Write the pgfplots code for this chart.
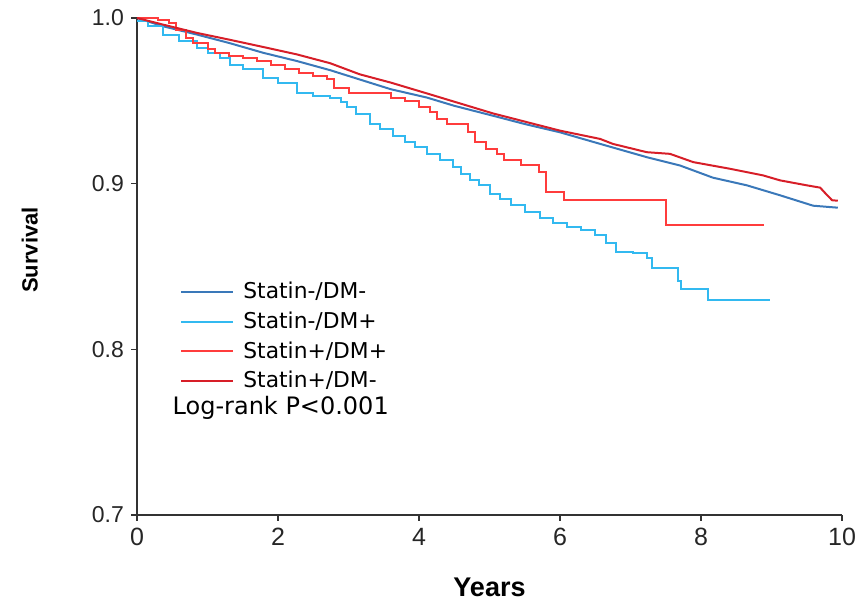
\documentclass[border=0pt]{standalone}
\usepackage{fontspec}
\setmainfont{DejaVu Sans}
\newfontfamily\arialf{Liberation Sans}
\usepackage{pgfplots}
\pgfplotsset{compat=1.18}
\definecolor{sdmm}{RGB}{58,120,185}
\definecolor{sdmp}{RGB}{50,185,240}
\definecolor{spdp}{RGB}{255,60,60}
\definecolor{spdm}{RGB}{215,30,40}

\begin{document}
\begin{tikzpicture}
\begin{axis}[
  width=352.5pt, height=248.5pt, scale only axis,
  xmin=0, xmax=10, ymin=0.7, ymax=1.0,
  axis x line*=bottom, axis y line*=left,
  axis line style={black!80, line width=0.8pt},
  xtick={0,2,4,6,8,10}, ytick={0.7,0.8,0.9,1.0},
  tick align=outside, major tick length=3pt,
  tick style={black!80, line width=0.8pt},
  yticklabel style={/pgf/number format/.cd, fixed, fixed zerofill, precision=1},
  /pgf/number format/assume math mode=true,
  ticklabel style={font=\arialf\fontsize{11.5}{13}\selectfont, text=black!85},
  xticklabel style={font=\arialf\fontsize{12.5}{14}\selectfont},
  xlabel={Years}, ylabel={Survival},
  xlabel style={at={(rel axis cs:0.5,0)}, anchor=center, yshift=-36pt,
    font=\arialf\bfseries\fontsize{13.5}{15}\selectfont},
  ylabel style={at={(rel axis cs:-0.152,0.533)}, anchor=center,
    font=\arialf\bfseries\fontsize{11}{13}\selectfont},
  legend style={draw=none, fill=none, at={(rel axis cs:0.061,0.475)},
    anchor=north west, font=\fontsize{10.9}{12}\selectfont,
    row sep=2pt, column sep=3pt, inner sep=0pt, nodes={inner sep=1.5pt}},
  legend cell align=left,
  legend image code/.code={\draw[#1] (0pt,0pt) -- (26pt,0pt);},
]
% Statin-/DM-
\addplot[sdmm, line width=1pt] coordinates {
(0,1.0)(0.37,0.995)(0.85,0.99)(1.3,0.985)(1.79,0.979)(2.27,0.974)(2.74,0.9685)
(3.3,0.961)(3.6,0.957)(4.11,0.952)(4.5,0.947)(5.05,0.941)(5.5,0.936)(6.0,0.931)
(6.57,0.924)(7.23,0.916)(7.7,0.911)(8.17,0.9036)(8.65,0.899)(9.12,0.893)
(9.59,0.8867)(9.94,0.8855)};
\addlegendentry{Statin-/DM-}
% Statin-/DM+
\addplot[sdmp, line width=1pt, const plot] coordinates {
(0,0.998)(0.15,0.995)(0.37,0.99)(0.6,0.986)(0.85,0.982)(1.0,0.979)(1.18,0.976)
(1.32,0.9715)(1.5,0.969)(1.79,0.964)(2.0,0.961)(2.27,0.955)(2.5,0.953)
(2.74,0.9515)(2.9,0.949)(2.98,0.946)(3.1,0.942)(3.3,0.936)(3.45,0.933)
(3.63,0.929)(3.8,0.925)(3.95,0.922)(4.11,0.918)(4.3,0.914)(4.48,0.910)
(4.6,0.906)(4.72,0.902)(4.85,0.899)(5.0,0.894)(5.15,0.891)(5.3,0.887)
(5.5,0.883)(5.72,0.879)(5.9,0.876)(6.1,0.874)(6.3,0.872)(6.5,0.869)
(6.65,0.864)(6.8,0.859)(7.04,0.858)(7.23,0.855)(7.3,0.849)(7.67,0.841)
(7.72,0.8365)(8.1,0.830)(8.98,0.830)};
\addlegendentry{Statin-/DM+}
% Statin+/DM+
\addplot[spdp, line width=1pt, const plot] coordinates {
(0,1.0)(0.3,0.999)(0.45,0.997)(0.55,0.993)(0.7,0.988)(0.8,0.985)(1.0,0.981)
(1.1,0.979)(1.3,0.977)(1.5,0.976)(1.7,0.974)(1.9,0.9715)(2.1,0.969)(2.3,0.967)
(2.5,0.965)(2.7,0.963)(2.8,0.958)(3.0,0.955)(3.6,0.952)(3.8,0.950)(4.0,0.946)
(4.15,0.943)(4.25,0.939)(4.4,0.936)(4.7,0.931)(4.8,0.925)(4.95,0.921)
(5.1,0.918)(5.2,0.914)(5.45,0.911)(5.7,0.907)(5.8,0.895)(6.05,0.890)
(7.5,0.875)(8.9,0.875)};
\addlegendentry{Statin+/DM+}
% Statin+/DM-
\addplot[spdm, line width=1pt] coordinates {
(0,1.0)(0.37,0.996)(0.85,0.991)(1.3,0.987)(1.79,0.9825)(2.27,0.978)(2.74,0.9727)
(3.16,0.966)(3.6,0.961)(4.11,0.9545)(5.05,0.9424)(6.0,0.932)(6.57,0.927)
(6.75,0.924)(7.23,0.919)(7.56,0.918)(7.89,0.913)(8.41,0.909)(8.88,0.905)
(9.12,0.902)(9.5,0.899)(9.69,0.8976)(9.79,0.893)(9.86,0.890)(9.94,0.8897)};
\addlegendentry{Statin+/DM-}
\node[anchor=west, inner sep=0pt, font=\fontsize{12}{13}\selectfont]
  at (rel axis cs:0.05,0.215) {Log-rank P<0.001};
\end{axis}
\pgfresetboundingbox
\path[use as bounding box] (-68.5pt,-44.5pt) rectangle (360pt,257.5pt);
\end{tikzpicture}
\end{document}
